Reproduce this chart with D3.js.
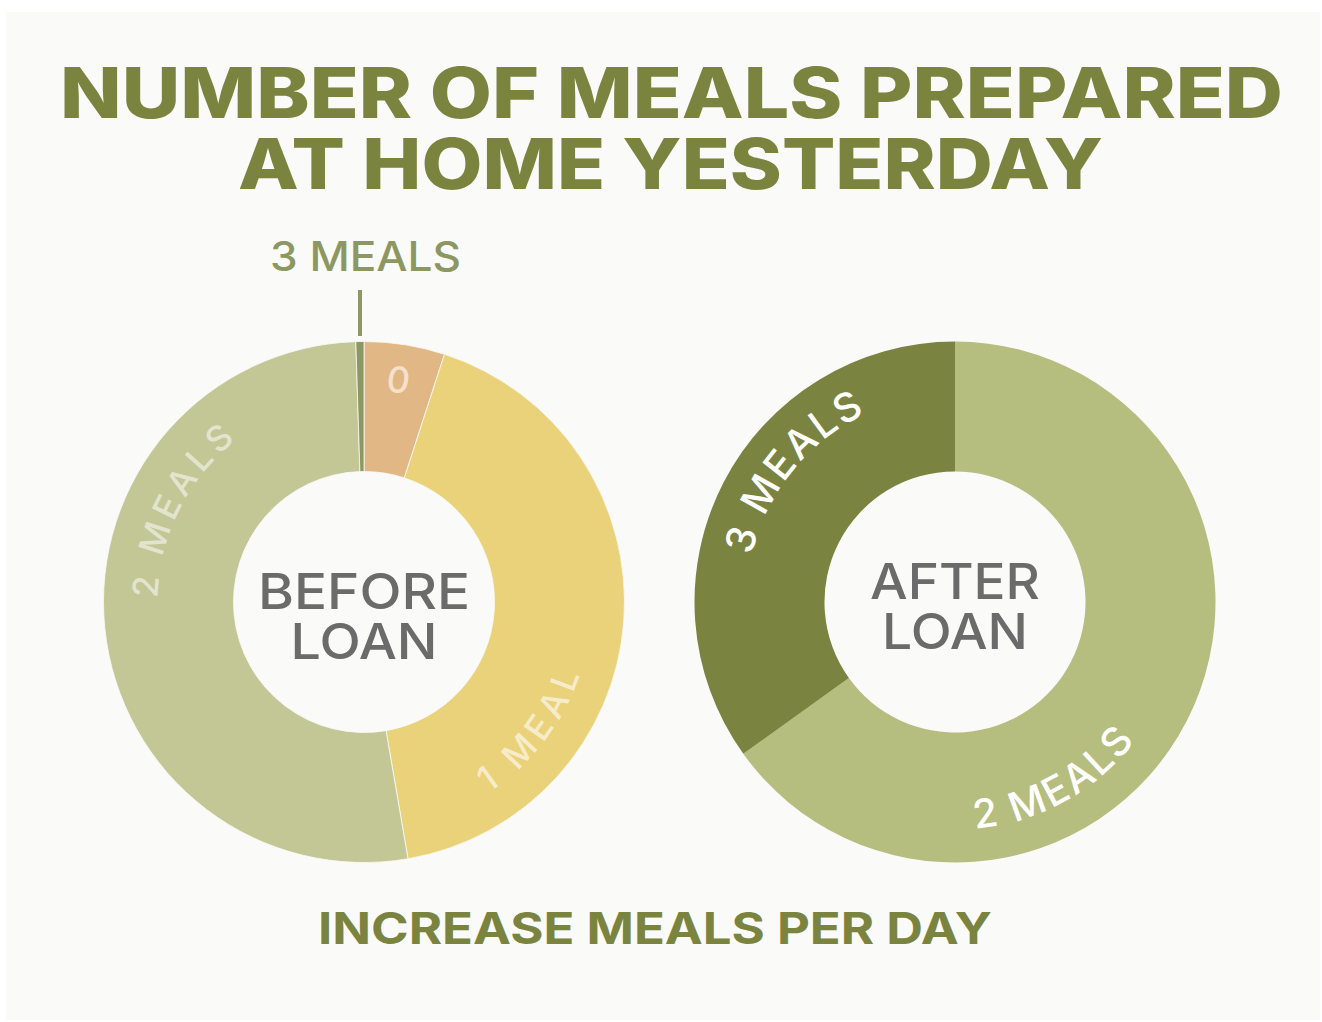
<!DOCTYPE html>
<html>
<head>
<meta charset="utf-8">
<script src="https://cdn.jsdelivr.net/npm/d3@7"></script>
<style>
  body { margin: 0; background: #ffffff; }
  svg text { font-family: Inter, "Open Sans", sans-serif; }
</style>
</head>
<body>
<svg width="1322" height="1022"></svg>
<script>
// data (percent of households)
const categories = ["0", "1 MEAL", "2 MEALS", "3 MEALS"];
const beforeValues = [5, 42.3, 52.2, 0.5];
const afterCategories = ["2 MEALS", "3 MEALS"];
const afterValues = [65.1, 34.9];

const titleLines = ["NUMBER OF MEALS PREPARED", "AT HOME YESTERDAY"];
const footer = "INCREASE MEALS PER DAY";

const svg = d3.select("svg"),
    width = +svg.attr("width"),
    height = +svg.attr("height");

const olive = "#7b843f";

// card
svg.append("rect")
    .attr("x", 6).attr("y", 12)
    .attr("width", 1314).attr("height", 1008)
    .attr("fill", "#fafaf8");

// title (left edges / widths measured on the reference)
const titleX = [60, 238], titleW = [1223, 865];
svg.selectAll(".title")
    .data(titleLines)
    .join("text")
    .attr("class", "title")
    .attr("x", (d, i) => titleX[i])
    .attr("y", (d, i) => 118 + i * 71)
    .attr("font-size", 70)
    .attr("font-weight", 800)
    .attr("fill", olive)
    .attr("textLength", (d, i) => titleW[i])
    .attr("lengthAdjust", "spacingAndGlyphs")
    .text(d => d);

const pie = d3.pie().sort(null).value(d => d);
const arc = d3.arc().innerRadius(130.5).outerRadius(260.5);

function donut(cx, cy, cats, values, colors, stroke) {
    const g = svg.append("g").attr("transform", `translate(${cx},${cy})`);
    g.selectAll("path.slice")
        .data(pie(values))
        .join("path")
        .attr("class", "slice")
        .attr("d", arc)
        .attr("fill", (d, i) => colors(cats[i]))
        .attr("stroke", stroke ? "#fafaf8" : "none")
        .attr("stroke-width", stroke ? 0.8 : 0);
    return g;
}

// arc label along a circle; angle in degrees clockwise from 12 o'clock
let pathId = 0;
function arcLabel(g, txt, opt) {
    const capH = 0.727 * opt.size;
    const a = opt.angle * Math.PI / 180;
    const half = Math.PI * 0.45;
    const p = d3.path();
    let r;
    if (opt.inward) {
        // letter tops toward the centre, text runs anticlockwise
        r = opt.r + capH / 2;
        p.arc(0, 0, r, a + half - Math.PI / 2, a - half - Math.PI / 2, true);
    } else {
        r = opt.r - capH / 2;
        p.arc(0, 0, r, a - half - Math.PI / 2, a + half - Math.PI / 2, false);
    }
    const id = "lbl" + (pathId++);
    g.append("path").attr("id", id).attr("d", p.toString()).attr("fill", "none");
    const t = g.append("text")
        .attr("font-size", opt.size)
        .attr("font-weight", 500)
        .attr("fill", opt.color)
        .attr("fill-opacity", opt.opacity);
    const tp = t.append("textPath")
        .attr("href", "#" + id)
        .attr("startOffset", "50%")
        .attr("text-anchor", "middle")
        .text(txt);
    if (opt.len && txt.length > 1) {
        const natural = t.node().getComputedTextLength();
        const ls = (opt.len - natural) / (txt.length - 1);
        t.attr("letter-spacing", ls);
        tp.attr("dx", ls / 2);
    }
}

function centerLabel(g, lines, y0, lens) {
    g.selectAll("text.center")
        .data(lines)
        .join("text")
        .attr("class", "center")
        .attr("x", 0)
        .attr("y", (d, i) => y0 + i * 50)
        .attr("text-anchor", "middle")
        .attr("font-size", 50)
        .attr("font-weight", 500)
        .attr("fill", "#6b6b6b")
        .attr("textLength", (d, i) => lens[i])
        .attr("lengthAdjust", "spacingAndGlyphs")
        .text(d => d);
}

// before loan
const beforeColor = d3.scaleOrdinal()
    .domain(categories)
    .range(["#e2b786", "#ead27b", "#c3c796", "#8c9761"]);
const left = donut(364, 602, categories, beforeValues, beforeColor, true);

arcLabel(left, "0", { angle: 8.8, r: 225, size: 36, color: "#ffffff", opacity: 0.6 });
arcLabel(left, "1 MEAL", { angle: 127, r: 215, size: 35, color: "#ffffff", opacity: 0.6, inward: true, len: 152 });
arcLabel(left, "2 MEALS", { angle: 297, r: 219, size: 35, color: "#ffffff", opacity: 0.55, len: 182 });
centerLabel(left, ["BEFORE", "LOAN"], 7, [212, 147]);

// callout for the tiny 3-meal slice
svg.append("line")
    .attr("x1", 360).attr("x2", 360)
    .attr("y1", 290).attr("y2", 336)
    .attr("stroke", beforeColor("3 MEALS"))
    .attr("stroke-width", 4);
svg.append("text")
    .attr("x", 270).attr("y", 271)
    .attr("font-size", 41)
    .attr("font-weight", 500)
    .attr("fill", beforeColor("3 MEALS"))
    .attr("textLength", 191)
    .attr("lengthAdjust", "spacingAndGlyphs")
    .text("3 MEALS");

// after loan
const afterColor = d3.scaleOrdinal()
    .domain(afterCategories)
    .range(["#b5bd7f", "#7a8440"]);
const right = donut(955, 602, afterCategories, afterValues, afterColor, false);

arcLabel(right, "3 MEALS", { angle: 309, r: 223, size: 40, color: "#ffffff", opacity: 1, len: 188 });
arcLabel(right, "2 MEALS", { angle: 151, r: 213, size: 40, color: "#ffffff", opacity: 1, inward: true, len: 188 });
centerLabel(right, ["AFTER", "LOAN"], -3, [170, 146]);

// footer
svg.append("text")
    .attr("x", 318).attr("y", 944)
    .attr("font-size", 44)
    .attr("font-weight", 700)
    .attr("fill", olive)
    .attr("textLength", 674)
    .attr("lengthAdjust", "spacingAndGlyphs")
    .text(footer);
</script>
</body>
</html>
